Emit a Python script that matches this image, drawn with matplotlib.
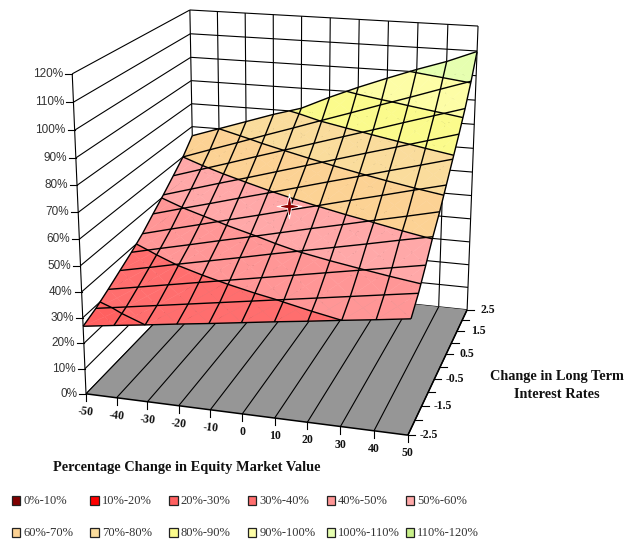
import numpy as np
import matplotlib
matplotlib.use("Agg")
import matplotlib.pyplot as plt
from matplotlib.lines import Line2D
from matplotlib.patches import Rectangle
from matplotlib.path import Path
from mpl_toolkits.mplot3d.art3d import Poly3DCollection, Line3DCollection

W, H = 628, 542

equity = [-50, -40, -30, -20, -10, 0, 10, 20, 30, 40, 50]
rates = [-2.5, -2.0, -1.5, -1.0, -0.5, 0.0, 0.5, 1.0, 1.5, 2.0, 2.5]
rate_labels = ["-2.5", "", "-1.5", "", "-0.5", "", "0.5", "", "1.5", "", "2.5"]
z_ticks = [0, 10, 20, 30, 40, 50, 60, 70, 80, 90, 100, 110, 120]
# one row per rate, one column per equity change (percent)
ratio = [
    [26.7, 28.4, 30.0, 31.7, 33.3, 35.0, 36.7, 38.3, 40.0, 41.6, 43.3],
    [29.0, 30.9, 32.8, 34.7, 36.6, 38.5, 40.4, 42.3, 44.2, 46.1, 48.0],
    [32.0, 34.2, 36.4, 38.6, 40.8, 43.0, 45.2, 47.4, 49.6, 51.8, 54.0],
    [35.2, 37.7, 40.3, 42.8, 45.3, 47.9, 50.4, 52.9, 55.4, 58.0, 60.5],
    [38.4, 41.2, 43.9, 46.7, 49.4, 52.2, 55.0, 57.7, 60.5, 63.2, 66.0],
    [42.0, 45.1, 48.1, 51.2, 54.2, 57.3, 60.3, 63.4, 66.4, 69.5, 72.5],
    [46.4, 49.7, 52.9, 56.2, 59.4, 62.7, 66.0, 69.2, 72.5, 75.7, 79.0],
    [50.7, 54.2, 57.7, 61.1, 64.6, 68.1, 71.6, 75.1, 78.5, 82.0, 85.5],
    [55.3, 59.0, 62.7, 66.5, 70.2, 73.9, 77.6, 81.3, 85.1, 88.8, 92.5],
    [60.0, 64.1, 68.1, 72.2, 76.2, 80.3, 84.3, 88.4, 92.4, 96.5, 100.5],
    [66.0, 70.0, 74.0, 78.0, 81.5, 87.0, 92.0, 96.6, 101.0, 105.0, 109.8],
]
marker_point = (0, 0.0, 59.0)
band_labels = ["0%-10%", "10%-20%", "20%-30%", "30%-40%", "40%-50%", "50%-60%",
               "60%-70%", "70%-80%", "80%-90%", "90%-100%", "100%-110%", "110%-120%"]
band_colors = ["#800000", "#FF0000", "#FF6060", "#FF6E6E", "#FF9696", "#FFA8A8",
               "#FCD294", "#FADC9C", "#FBFB8C", "#FDFDA6", "#E6FFB0", "#C8F08A"]

# camera fit: (equity, rate, level) -> pixel position
anchors = [
    ((-50, -2.5, 0), (86, 394)), ((50, -2.5, 0), (408, 435)),
    ((50, 2.5, 0), (467, 310)), ((-50, 2.5, 0), (195, 281)),
    ((-50, -2.5, 120), (72, 74)), ((-50, 2.5, 120), (190, 10)),
    ((50, 2.5, 120), (478, 26)), ((-50, -2.5, 60), (79.5, 239)),
    ((50, 2.5, 60), (472.5, 172)),
]
rows, rhs = [], []
for (x, y, z), (u, v) in anchors:
    rows.append([x, y, z, 1, 0, 0, 0, 0, -u * x, -u * y, -u * z]); rhs.append(u)
    rows.append([0, 0, 0, 0, x, y, z, 1, -v * x, -v * y, -v * z]); rhs.append(v)
p = np.linalg.lstsq(np.array(rows, float), np.array(rhs, float), rcond=None)[0]
P = np.array([p[:4], p[4:8], [*p[8:11], 1.0]])


def to_px(x, y, z):
    q = P @ np.array([x, y, z, 1.0])
    return q[0] / q[2], q[1] / q[2]


fig = plt.figure(figsize=(W / 100, H / 100), dpi=100)
ax = fig.add_axes([0, 0, 1, 1], projection="3d", computed_zorder=False)
ax.set_axis_off()
ax.apply_aspect()

# pixel -> the axes' 2D view coordinates
inv = ax.transData.inverted()
o = inv.transform((0, H))
ex = inv.transform((1, H)) - o
ey = inv.transform((0, H - 1)) - o
A = np.array([[ex[0], ey[0], o[0]], [ex[1], ey[1], o[1]], [0, 0, 1.0]])
Q = A @ P
M = np.array([Q[0], Q[1], [0.002, 0.05, 0.0, 0.3], Q[2]])
ax.get_proj = lambda: M

X, Y = np.meshgrid(equity, rates)
Z = np.array(ratio)


def lines3d(segs, lw, zorder):
    lc = Line3DCollection(segs, colors="k", linewidths=lw, zorder=zorder)
    lc.set_clip_on(False)
    ax.add_collection3d(lc)


# walls
wall = [[(-50, -2.5, z), (-50, 2.5, z)] for z in z_ticks] + [[(-50, 2.5, z), (50, 2.5, z)] for z in z_ticks]
wall += [[(x, 2.5, 0), (x, 2.5, 120)] for x in equity]
wall += [[(-50, -2.5, 0), (-50, -2.5, 120)]]
lines3d(wall, 0.8, 1)

# floor
floor = Poly3DCollection([[(-50, -2.5, 0), (50, -2.5, 0), (50, 2.5, 0), (-50, 2.5, 0)]],
                         facecolors="#969696", edgecolors="none", zorder=2)
floor.set_clip_on(False)
ax.add_collection3d(floor)
lines3d([[(x, -2.5, 0), (x, 2.5, 0)] for x in equity], 0.8, 3)
lines3d([[(-50, -2.5, 0), (50, -2.5, 0)], [(50, -2.5, 0), (50, 2.5, 0)]], 1.1, 3)


# surface bands
def clip_band(tri, lo, hi):
    poly = tri
    for level, keep_above in ((lo, True), (hi, False)):
        out = []
        for i in range(len(poly)):
            a, b = poly[i], poly[(i + 1) % len(poly)]
            ina = (a[2] >= level) == keep_above
            inb = (b[2] >= level) == keep_above
            if ina:
                out.append(a)
            if ina != inb:
                t = (level - a[2]) / (b[2] - a[2])
                out.append(tuple(a[k] + t * (b[k] - a[k]) for k in range(3)))
        poly = out
        if not poly:
            break
    return poly


polys, faces = [], []
for i in range(Z.shape[0] - 1):
    for j in range(Z.shape[1] - 1):
        pts = [(X[i + a, j + b], Y[i + a, j + b], Z[i + a, j + b]) for a, b in ((0, 0), (0, 1), (1, 1), (1, 0))]
        cen = tuple(np.mean(pts, axis=0))
        for k in range(4):
            tri = [pts[k], pts[(k + 1) % 4], cen]
            for b, col in enumerate(band_colors):
                piece = clip_band(tri, b * 10, (b + 1) * 10)
                if len(piece) >= 3:
                    polys.append(piece)
                    faces.append(col)
surf = Poly3DCollection(polys, facecolors=faces, edgecolors=faces, linewidths=0.3, zorder=4)
surf.set_clip_on(False)
ax.add_collection3d(surf)

cs = ax.contour(X, Y, Z, levels=z_ticks[1:-1], colors="k", linewidths=1.0, zorder=5)
wf = ax.plot_wireframe(X, Y, Z, rstride=1, cstride=1, color="k", linewidth=1.0, zorder=5)

star = Path.unit_regular_star(4, innerCircle=0.22)
mu, mv = to_px(*marker_point)
for size, col, z in ((18, "#FFFFFF", 6), (11.5, "#8B0000", 7)):
    fig.add_artist(Line2D([mu / W], [1 - mv / H], ls="none", marker=star, ms=size,
                          mfc=col, mec=col, mew=0.6, zorder=z))


def seg(u0, v0, u1, v1, lw=0.8):
    fig.add_artist(Line2D([u0 / W, u1 / W], [1 - v0 / H, 1 - v1 / H], color="k", lw=lw))


def txt(u, v, s, **kw):
    return fig.text(u / W, 1 - v / H, s, **kw)


SANS = dict(family="Liberation Sans", fontsize=8.5, color="#333333")
SERIF = dict(family="Liberation Serif", fontweight="bold", color="#111111")
for z in z_ticks:
    u, v = to_px(-50, -2.5, z)
    seg(u - 7, v, u, v)
    txt(u - 9, v, f"{z}%", ha="right", va="center", **SANS)
for i, x in enumerate(equity):
    u, v = to_px(x, -2.5, 0)
    seg(u, v, u, v + 7)
    txt(u, v + 18, str(x), ha="center", va="center", fontsize=8.5,
        rotation=-6 if x < 0 else 0, rotation_mode="anchor", **SERIF)
for y, lab in zip(rates, rate_labels):
    u, v = to_px(50, y, 0)
    seg(u, v, u + 7, v)
    if lab:
        txt(u + 21, v, lab, ha="center", va="center", fontsize=8.5, **SERIF)

txt(186.5, 468, "Percentage Change in Equity Market Value", ha="center", va="center", fontsize=10.4, **SERIF)
txt(556.5, 385.5, "Change in Long Term\nInterest Rates", ha="center", va="center", fontsize=10.3,
    linespacing=1.55, **SERIF)

for i, (lab, col) in enumerate(zip(band_labels, band_colors)):
    c, r = i % 6, i // 6
    u = 11.5 + 78.8 * c
    v = 496 + 32 * r
    fig.add_artist(Rectangle((u / W, 1 - (v + 9) / H), 8.5 / W, 9 / H, transform=fig.transFigure,
                             fc=col, ec="#222222", lw=0.9))
    txt(u + 11.5, v + 4.5, lab, ha="left", va="center", family="Liberation Serif",
        fontsize=9.0, color="#333333")

fig.savefig("out.png", dpi=100)
